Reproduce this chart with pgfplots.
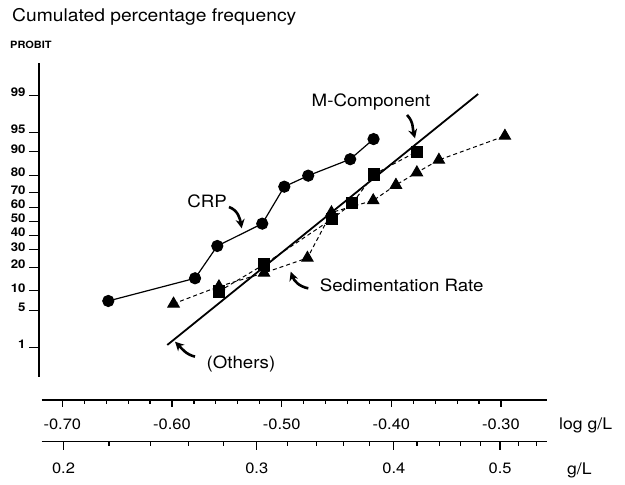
\documentclass[border=0pt]{standalone}
\usepackage{pgfplots}
\pgfplotsset{compat=1.18}
\usepackage{fontspec}
\setmainfont{TeX Gyre Heros}[FakeStretch=1.1]
\usetikzlibrary{arrows.meta}
\begin{document}
\begin{tikzpicture}[x=1pt,y=1pt]
\useasboundingbox (0,0) rectangle (625,485);
% ---------- main probit axis ----------
\begin{axis}[
  at={(39pt,108pt)}, anchor=south west,
  scale only axis, width=507.7pt, height=314pt,
  xmin=-0.7213, xmax=-0.2583, ymin=-2.866, ymax=2.917,
  axis x line=none, axis y line=left,
  axis line style={-, line width=2pt},
  ytick={-2.326,-1.645,-1.2816,-0.8416,-0.5244,-0.2533,0,0.2533,0.5244,0.8416,1.2816,1.645,2.326},
  yticklabels={1,5,10,20,30,40,50,60,70,80,90,95,99},
  tick align=outside, major tick length=10pt,
  ytick style={line width=1pt, black},
  yticklabel style={font=\bfseries\fontsize{12}{13}\selectfont, yshift=3pt},
  clip=false,
]
% Sedimentation rate (triangles)
\addplot[black, dashed, line width=1pt, dash pattern=on 4pt off 3pt,
  mark=triangle*, mark size=6.5pt, mark options={solid}] coordinates {
  (-0.5986,-1.517) (-0.5572,-1.199) (-0.5161,-0.950) (-0.4765,-0.674)
  (-0.4546,0.164) (-0.4165,0.385) (-0.3958,0.670) (-0.3767,0.900)
  (-0.3566,1.131) (-0.2964,1.573)};
% M-component (squares)
\addplot[black, dashed, line width=1pt, dash pattern=on 4pt off 3pt,
  mark=square*, mark size=5.6pt, mark options={solid}] coordinates {
  (-0.5573,-1.291) (-0.5161,-0.794) (-0.4541,0.044) (-0.4355,0.333)
  (-0.4159,0.864) (-0.3769,1.284)};
% fitted line (Others / M-Component)
\addplot[black, line width=1.8pt, no marks] coordinates {
  (-0.6043,-2.276) (-0.3208,2.346)};
% CRP (circles)
\addplot[black, line width=1.2pt, mark=*, mark size=5.5pt] coordinates {
  (-0.6581,-1.466) (-0.5790,-1.048) (-0.5587,-0.453) (-0.5177,-0.042)
  (-0.4976,0.639) (-0.4758,0.842) (-0.4375,1.145) (-0.4162,1.516)};
\end{axis}
% ---------- log g/L axis ----------
\begin{axis}[
  at={(41.7pt,85pt)}, anchor=south west,
  scale only axis, width=505pt, height=20pt,
  xmin=-0.7188, xmax=-0.2583, ymin=0, ymax=1,
  axis x line=bottom, axis y line=none,
  axis line style={-, line width=1.5pt},
  xtick={-0.7,-0.6,-0.5,-0.4,-0.3},
  xticklabels={-0.70,-0.60,-0.50,-0.40,-0.30},
  minor tick num=4,
  tick align=outside, major tick length=7pt, minor tick length=4pt,
  every tick/.style={line width=1.2pt, black},
  xticklabel style={font=\fontsize{15}{16}\selectfont, yshift=-8pt},
]
\end{axis}
% ---------- g/L axis ----------
\begin{axis}[
  at={(41.7pt,43.3pt)}, anchor=south west,
  scale only axis, width=505pt, height=20pt,
  xmode=log, xmin=0.19104, xmax=0.5514, ymin=0, ymax=1,
  axis x line=bottom, axis y line=none,
  axis line style={-, line width=1.5pt},
  xtick={0.2,0.3,0.4,0.5},
  xticklabels={0.2,0.3,0.4,0.5},
  minor xtick={0.22,0.24,0.26,0.28,0.32,0.34,0.36,0.38,0.42,0.44,0.46,0.48,0.52,0.54},
  tick align=outside, major tick length=8pt, minor tick length=4pt,
  every tick/.style={line width=1.2pt, black},
  xticklabel style={font=\fontsize{15}{16}\selectfont, yshift=-10pt},
]
\end{axis}
% ---------- texts ----------
\node[anchor=base west, inner sep=0, font=\fontsize{17.5}{20}\selectfont] at (12,463.3) {Cumulated percentage frequency};
\node[anchor=west, inner sep=0, font=\bfseries\fontsize{10}{12}\selectfont] at (10,440) {PROBIT};
\node[font=\fontsize{17}{20}\selectfont] at (207,284) {CRP};
\node[font=\fontsize{17}{20}\selectfont] at (371,383) {M-Component};
\node[font=\fontsize{17}{20}\selectfont] at (401.7,199.5) {Sedimentation Rate};
\node[font=\fontsize{17}{20}\selectfont] at (241,121) {(Others)};
\node[anchor=west, inner sep=0, font=\fontsize{16}{18}\selectfont] at (559,60) {log\hspace{5pt}g/L};
\node[anchor=west, inner sep=0, font=\fontsize{16}{18}\selectfont] at (567,15) {g/L};
% ---------- arrows ----------
\tikzset{ann/.style={line width=2.6pt, -{Stealth[length=9pt,width=9pt]}}}
\draw[ann] (229,278) to[out=-20,in=100] (241.7,256.7);
\draw[ann] (407,370) to[out=-45,in=105] (415,346.7);
\draw[ann] (308.3,196.7) to[out=170,in=-70] (290.7,213.3);
\draw[ann] (195,128.3) to[out=165,in=-45] (175,143.3);
\end{tikzpicture}
\end{document}
